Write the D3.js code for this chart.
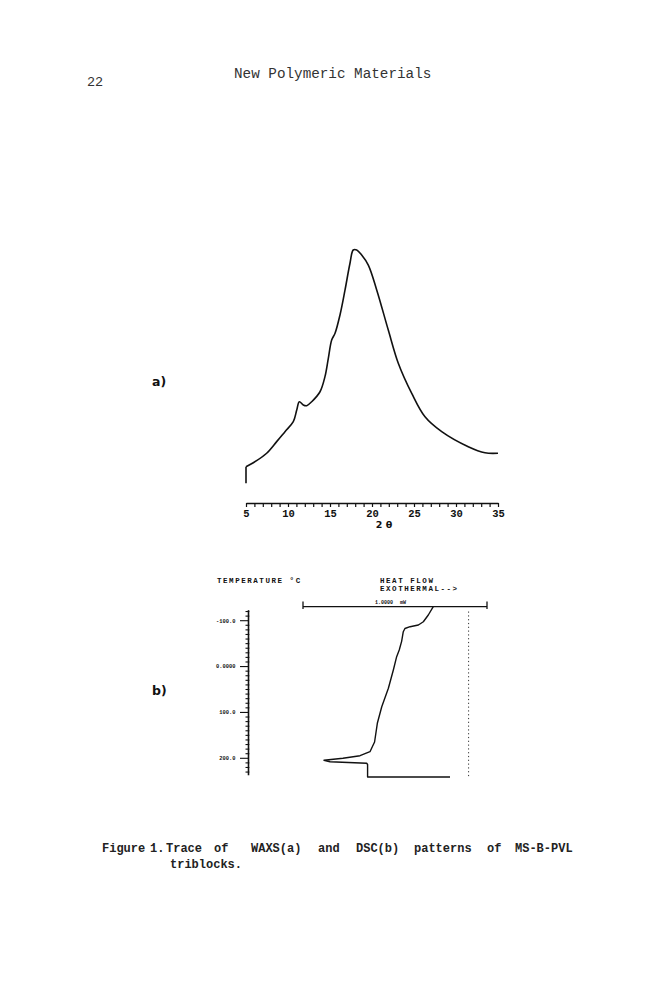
<!DOCTYPE html>
<html>
<head>
<meta charset="utf-8">
<script src="https://cdn.jsdelivr.net/npm/d3@7/dist/d3.min.js"></script>
<style>
  html, body { margin: 0; padding: 0; background: #fff; }
  svg { display: block; }
  .mono { font-family: "Liberation Mono", "DejaVu Sans Mono", monospace; }
</style>
</head>
<body>
<svg id="page" width="666" height="1000"></svg>
<script>
// ---------- DATA ----------
// (a) WAXS trace: 2θ (degrees) vs relative intensity (0-100)
const waxsTheta = [5.0, 5.0, 5.87, 7.46, 8.65, 9.64, 10.63, 11.04, 11.35, 11.82, 12.23, 12.82, 13.81, 14.40, 14.80, 15.20, 15.60, 16.19, 16.79, 17.38, 17.77, 18.18, 18.77, 19.56, 20.56, 21.94, 23.13, 24.73, 26.31, 28.30, 31.46, 33.45, 35.0];
const waxsIntensity = [-0.5, 6.6, 8.3, 12.4, 17.4, 21.7, 26.0, 31.0, 34.6, 33.2, 32.9, 34.6, 38.9, 45.4, 53.3, 61.2, 64.1, 72.0, 82.8, 94.3, 100, 100, 97.8, 93.5, 82.8, 65.5, 51.2, 38.2, 28.1, 21.7, 15.2, 12.6, 12.4];
const waxsTicks = [5,6,7,8,9,10,11,12,13,14,15,16,17,18,19,20,21,22,23,24,25,26,27,28,29,30,31,32,33,34,35];
const waxsTickLabels = ["5","10","15","20","25","30","35"];

// (b) DSC trace: heat flow (mW, relative to scale bar) vs temperature (°C)
const dscHeatFlow = [0.708, 0.681, 0.654, 0.627, 0.582, 0.554, 0.545, 0.536, 0.523, 0.509, 0.491, 0.464, 0.428, 0.404, 0.389, 0.364, 0.310, 0.217, 0.114, 0.147, 0.346, 0.351, 0.351, 0.799];
const dscTemp     = [-130.5, -112.4, -97.8, -90.6, -86.9, -83.0, -76.0, -55.0, -36.1, -21.5, 7.5, 47.4, 87.5, 123.7, 164.5, 185.6, 194.3, 200.0, 204.3, 207.4, 210.9, 213.5, 240.7, 240.7];
const dscMajorTicks = [-100, 0, 100, 200];
const dscMajorLabels = ["-100.0", "0.0000", "100.0", "200.0"];
const dscMinorTicks = [-120,-110,-90,-80,-70,-60,-50,-40,-30,-20,-10,10,20,30,40,50,60,70,80,90,110,120,130,140,150,160,170,180,190,210,220,230];
const dscTempRange = [-123, 237];
const dscScaleBar = [0, 1];   // 1.0000 mW bar
const dscReference = 0.900;   // dotted reference trace position

const svg = d3.select("#page");

// ---------- PAGE TEXT ----------
svg.append("text").attr("class","mono").attr("x", 87).attr("y", 86)
  .attr("font-size", 13.5).attr("fill", "#333").text("22");
svg.append("text").attr("class","mono").attr("x", 234).attr("y", 78)
  .attr("font-size", 14.3).attr("fill", "#333").text("New Polymeric Materials");

// ---------- (a) WAXS ----------
const xW = d3.scaleLinear().domain([5, 35]).range([246, 498]);
const yW = d3.scaleLinear().domain([0, 100]).range([482, 250]);
const waxsPts = waxsTheta.map((t, i) => [t, waxsIntensity[i]]);

// vertical start of the trace (pen drop) drawn straight, rest smooth
svg.append("path")
  .datum(waxsPts.slice(0, 2))
  .attr("fill", "none").attr("stroke", "#111").attr("stroke-width", 1.6)
  .attr("d", d3.line().x(d => xW(d[0])).y(d => yW(d[1])));
svg.append("path")
  .datum(waxsPts.slice(1))
  .attr("fill", "none").attr("stroke", "#111").attr("stroke-width", 1.6)
  .attr("stroke-linejoin", "round")
  .attr("d", d3.line().x(d => xW(d[0])).y(d => yW(d[1])).curve(d3.curveCatmullRom.alpha(0.5)));

const axW = svg.append("g").attr("transform", "translate(0,503)")
  .call(d3.axisBottom(xW).tickValues(waxsTicks).tickSize(4).tickSizeOuter(0)
    .tickFormat(d => waxsTickLabels.includes(String(d)) ? String(d) : ""));
axW.select(".domain").attr("stroke", "#111").attr("stroke-width", 1.6);
axW.selectAll(".tick line").attr("stroke", "#111").attr("stroke-width", 1.2);
axW.selectAll(".tick text").attr("font-family", "Liberation Mono, monospace")
  .attr("font-weight", "bold").attr("font-size", 10.5).attr("fill", "#111");

svg.append("text").attr("x", 384).attr("y", 528).attr("text-anchor", "middle")
  .attr("font-family", "DejaVu Sans, sans-serif").attr("font-weight", "bold")
  .attr("font-size", 9.5).attr("fill", "#111").text("2 θ");

svg.append("text").attr("x", 152).attr("y", 386)
  .attr("font-family", "DejaVu Sans, sans-serif").attr("font-weight", "bold")
  .attr("font-size", 12.5).attr("fill", "#111").text("a)");

// ---------- (b) DSC ----------
const yD = d3.scaleLinear().domain([-100, 200]).range([620.7, 758.3]);
const xD = d3.scaleLinear().domain([0, 1]).range([303, 487]);

const hdr = (x, y, s) => svg.append("text").attr("class","mono").attr("x", x).attr("y", y)
  .attr("font-size", 7.5).attr("font-weight", "bold").attr("letter-spacing", 1.55)
  .attr("fill", "#111").text(s);
hdr(217, 583, "TEMPERATURE °C");
hdr(380, 583, "HEAT FLOW");
hdr(380, 590.5, "EXOTHERMAL-->");

// scale bar bracket
const bar = svg.append("g").attr("stroke", "#111").attr("stroke-width", 1.3).attr("fill", "none");
bar.append("line").attr("x1", xD(dscScaleBar[0])).attr("x2", xD(dscScaleBar[1]))
  .attr("y1", 606.7).attr("y2", 606.7);
dscScaleBar.forEach(v => bar.append("line").attr("x1", xD(v)).attr("x2", xD(v))
  .attr("y1", 601.5).attr("y2", 609));
svg.append("text").attr("class","mono").attr("x", 375).attr("y", 604)
  .attr("font-size", 5).attr("font-weight", "bold").attr("fill", "#111").text("1.0000");
svg.append("text").attr("class","mono").attr("x", 400).attr("y", 604)
  .attr("font-size", 5).attr("font-weight", "bold").attr("fill", "#111").text("mW");

// temperature axis
const axD = svg.append("g").attr("transform", "translate(248.5,0)");
axD.append("line").attr("x1", 0).attr("x2", 0)
  .attr("y1", yD(dscTempRange[0])).attr("y2", yD(dscTempRange[1]))
  .attr("stroke", "#111").attr("stroke-width", 1.6);
axD.selectAll(".minor").data(dscMinorTicks).join("line").attr("class", "minor")
  .attr("x1", -3).attr("x2", 0.8).attr("y1", d => yD(d)).attr("y2", d => yD(d))
  .attr("stroke", "#111").attr("stroke-width", 1.1);
axD.selectAll(".major").data(dscMajorTicks).join("line").attr("class", "major")
  .attr("x1", -8.5).attr("x2", 0).attr("y1", d => yD(d)).attr("y2", d => yD(d))
  .attr("stroke", "#111").attr("stroke-width", 1.1);
axD.selectAll(".lab").data(dscMajorTicks).join("text").attr("class", "lab mono")
  .attr("x", -13).attr("y", d => yD(d) + 1.9).attr("text-anchor", "end")
  .attr("font-size", 5.4).attr("font-weight", "bold").attr("fill", "#111")
  .text((d, i) => dscMajorLabels[i]);

// dotted reference trace
svg.append("line").attr("x1", xD(dscReference)).attr("x2", xD(dscReference))
  .attr("y1", yD(-120)).attr("y2", yD(dscTempRange[1] + 3))
  .attr("stroke", "#333").attr("stroke-width", 1).attr("stroke-dasharray", "1.2,2.6");

// DSC curve
svg.append("path")
  .datum(dscHeatFlow.map((h, i) => [h, dscTemp[i]]))
  .attr("fill", "none").attr("stroke", "#111").attr("stroke-width", 1.4)
  .attr("stroke-linejoin", "round")
  .attr("d", d3.line().x(d => xD(d[0])).y(d => yD(d[1])));

svg.append("text").attr("x", 152).attr("y", 695)
  .attr("font-family", "DejaVu Sans, sans-serif").attr("font-weight", "bold")
  .attr("font-size", 12.5).attr("fill", "#111").text("b)");

// ---------- CAPTION ----------
const capWords = [
  ["Figure", 102], ["1.", 150], ["Trace", 166], ["of", 214], ["WAXS(a)", 251],
  ["and", 318], ["DSC(b)", 356], ["patterns", 414], ["of", 487], ["MS-B-PVL", 515]
];
svg.selectAll(".cap").data(capWords).join("text").attr("class", "cap mono")
  .attr("x", d => d[1]).attr("y", 852).attr("font-size", 12).attr("font-weight", "bold")
  .attr("fill", "#222").text(d => d[0]);
svg.append("text").attr("class","mono").attr("x", 170).attr("y", 868)
  .attr("font-size", 12).attr("font-weight", "bold").attr("fill", "#222").text("triblocks.");
</script>
</body>
</html>
